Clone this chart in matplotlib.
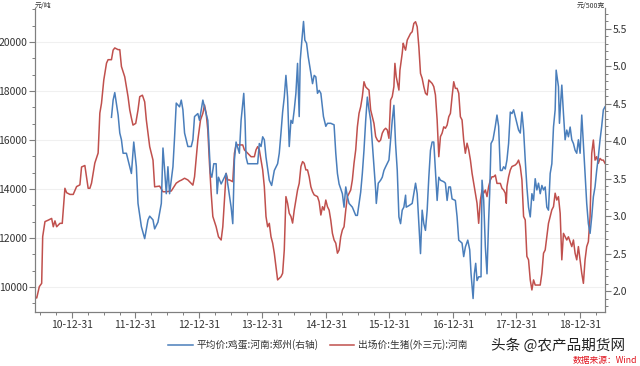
import matplotlib
matplotlib.use('Agg')
import matplotlib.pyplot as plt
from matplotlib.ticker import MultipleLocator, AutoMinorLocator, FixedLocator
import numpy as np

plt.rcParams['font.family'] = ['Noto Sans CJK SC', 'DejaVu Sans']

# 出场价:生猪(外三元):河南  (元/吨, left axis) - time in fractional years
pig_t = [2010.419, 2010.446, 2010.487, 2010.524, 2010.540, 2010.576, 2010.628, 2010.681, 2010.707, 2010.733,
         2010.760, 2010.812, 2010.848, 2010.890, 2010.917, 2010.969, 2011.021, 2011.074, 2011.126, 2011.152,
         2011.204, 2011.230, 2011.256, 2011.283, 2011.309, 2011.361, 2011.413, 2011.440, 2011.466, 2011.502,
         2011.545, 2011.570, 2011.623, 2011.649, 2011.675, 2011.727, 2011.754, 2011.780, 2011.832, 2011.884,
         2011.911, 2011.937, 2011.962, 2012.005, 2012.041, 2012.068, 2012.110, 2012.146, 2012.172, 2012.225,
         2012.277, 2012.303, 2012.381, 2012.433, 2012.486, 2012.565, 2012.643, 2012.695, 2012.722, 2012.774,
         2012.826, 2012.879, 2012.905, 2012.931, 2012.983, 2013.025, 2013.062, 2013.088, 2013.114, 2013.140,
         2013.166, 2013.193, 2013.219, 2013.271, 2013.308, 2013.350, 2013.376, 2013.402, 2013.428, 2013.454,
         2013.481, 2013.533, 2013.559, 2013.585, 2013.637, 2013.690, 2013.716, 2013.768, 2013.821, 2013.873,
         2013.899, 2013.925, 2013.951, 2013.978, 2014.004, 2014.030, 2014.056, 2014.082, 2014.108, 2014.135,
         2014.161, 2014.187, 2014.213, 2014.239, 2014.292, 2014.318, 2014.344, 2014.370, 2014.396, 2014.422,
         2014.449, 2014.475, 2014.501, 2014.527, 2014.553, 2014.579, 2014.606, 2014.632, 2014.658, 2014.684,
         2014.710, 2014.736, 2014.763, 2014.789, 2014.815, 2014.867, 2014.893, 2014.920, 2014.946, 2014.971,
         2014.998, 2015.024, 2015.050, 2015.076, 2015.102, 2015.128, 2015.155, 2015.181, 2015.207, 2015.233,
         2015.259, 2015.285, 2015.312, 2015.338, 2015.364, 2015.390, 2015.416, 2015.442, 2015.469, 2015.495,
         2015.521, 2015.547, 2015.573, 2015.599, 2015.626, 2015.652, 2015.678, 2015.704, 2015.730, 2015.756,
         2015.783, 2015.809, 2015.835, 2015.861, 2015.887, 2015.913, 2015.940, 2015.966, 2015.992, 2016.018,
         2016.044, 2016.070, 2016.086, 2016.107, 2016.128, 2016.149, 2016.165, 2016.180, 2016.201, 2016.217,
         2016.233, 2016.254, 2016.280, 2016.306, 2016.332, 2016.358, 2016.384, 2016.411, 2016.437, 2016.463,
         2016.489, 2016.515, 2016.541, 2016.567, 2016.594, 2016.620, 2016.672, 2016.698, 2016.724, 2016.751,
         2016.777, 2016.803, 2016.829, 2016.855, 2016.881, 2016.908, 2016.934, 2016.960, 2016.986, 2017.012,
         2017.038, 2017.065, 2017.091, 2017.117, 2017.143, 2017.169, 2017.195, 2017.222, 2017.248, 2017.275,
         2017.301, 2017.327, 2017.353, 2017.379, 2017.405, 2017.432, 2017.458, 2017.484, 2017.510, 2017.536,
         2017.562, 2017.589, 2017.615, 2017.641, 2017.667, 2017.693, 2017.746, 2017.772, 2017.798, 2017.824,
         2017.840, 2017.850, 2017.876, 2017.903, 2017.929, 2017.981, 2018.007, 2018.033, 2018.060, 2018.086,
         2018.112, 2018.138, 2018.164, 2018.190, 2018.217, 2018.243, 2018.269, 2018.295, 2018.321, 2018.374,
         2018.400, 2018.426, 2018.452, 2018.504, 2018.531, 2018.557, 2018.583, 2018.609, 2018.635, 2018.661,
         2018.688, 2018.714, 2018.740, 2018.766, 2018.792, 2018.818, 2018.845, 2018.871, 2018.897, 2018.923,
         2018.949, 2018.975, 2019.002, 2019.028, 2019.054, 2019.080, 2019.106, 2019.132, 2019.159, 2019.185,
         2019.211, 2019.237, 2019.263, 2019.289, 2019.316, 2019.342, 2019.368, 2019.394]
pig_v = [9608, 9550, 10016, 10150, 12056, 12670, 12730, 12800, 12460, 12700,
         12460, 12600, 12600, 14030, 13850, 13780, 13780, 14100, 14170, 14900,
         14960, 14490, 14030, 14030, 14240, 15060, 15470, 17100, 17500, 18450,
         19140, 19280, 19280, 19670, 19760, 19690, 19690, 19000, 18580, 17770,
         17230, 16900, 16610, 16680, 17230, 17770, 17830, 17560, 16820, 15730,
         15180, 14090, 14120, 13890, 13890, 13920, 14240, 14330, 14360, 14440,
         14370, 14230, 14160, 14500, 16000, 16820, 17090, 17430, 17090, 16410,
         15050, 13830, 12880, 12460, 12050, 11920, 12460, 13550, 14640, 14370,
         14370, 14300, 15460, 15800, 15800, 15800, 15600, 15460, 15320, 15320,
         15600, 15730, 15600, 15180, 14780, 14090, 12880, 12460, 12600, 12050,
         11790, 11380, 10830, 10290, 10420, 10560, 11510, 13690, 13420, 13010,
         12880, 12610, 13140, 13550, 13960, 14230, 14920, 15120, 15050, 14780,
         14780, 14500, 14090, 13890, 13760, 13690, 13480, 12940, 13280, 13140,
         13550, 13280, 13140, 12730, 12190, 11920, 11790, 11380, 11510, 12050,
         12330, 12460, 13140, 13690, 13830, 13960, 14370, 15050, 15600, 16540,
         17090, 17360, 17770, 18380, 18170, 18100, 18040, 17230, 16950, 16680,
         16140, 16000, 15930, 16000, 16280, 16410, 16480, 16410, 16070, 17630,
         17770, 18180, 19130, 18580, 18310, 18040, 18850, 19130, 19540, 19950,
         19810, 19670, 20080, 20220, 20350, 20420, 20760, 20830, 20620, 19810,
         18720, 18520, 18180, 17910, 17840, 18450, 18310, 18180, 17840, 16820,
         15320, 16140, 16280, 16540, 16480, 16610, 16950, 17090, 17770, 18380,
         18110, 18110, 17910, 16950, 16820, 16000, 15460, 15870, 15600, 15180,
         14640, 14230, 13830, 13420, 12600, 13550, 13960, 13830, 13960, 13690,
         14100, 14370, 14500, 14500, 14570, 14230, 14230, 14030, 13960, 13830,
         13420, 14100, 14500, 14780, 14920, 14980, 15050, 15180, 14920, 14370,
         12880, 12740, 11250, 11110, 10290, 9880, 10290, 10080, 10080, 10080,
         10560, 11380, 11510, 12600, 12880, 13150, 13280, 13830, 13550, 13690,
         13010, 11110, 12190, 12050, 11920, 12050, 11850, 11650, 11920, 11380,
         11110, 11650, 11110, 10560, 10150, 11110, 11650, 11850, 12880, 15460,
         16000, 15180, 15320, 15050, 15250, 15180, 15180, 15050]

# 平均价:鸡蛋:河南:郑州 (元/500克, right axis)
egg_t = [2011.623, 2011.649, 2011.675, 2011.702, 2011.728, 2011.754, 2011.780, 2011.806, 2011.858, 2011.911,
         2011.937, 2011.974, 2012.015, 2012.041, 2012.094, 2012.146, 2012.198, 2012.225, 2012.277, 2012.303,
         2012.355, 2012.408, 2012.434, 2012.460, 2012.486, 2012.512, 2012.538, 2012.591, 2012.617, 2012.643,
         2012.695, 2012.722, 2012.748, 2012.774, 2012.826, 2012.879, 2012.905, 2012.931, 2012.983, 2013.009,
         2013.036, 2013.062, 2013.098, 2013.140, 2013.182, 2013.203, 2013.234, 2013.271, 2013.287, 2013.308,
         2013.350, 2013.402, 2013.428, 2013.454, 2013.507, 2013.533, 2013.559, 2013.585, 2013.637, 2013.664,
         2013.690, 2013.706, 2013.726, 2013.742, 2013.768, 2013.821, 2013.873, 2013.925, 2013.951, 2013.978,
         2014.004, 2014.030, 2014.056, 2014.108, 2014.145, 2014.187, 2014.239, 2014.265, 2014.292, 2014.318,
         2014.344, 2014.370, 2014.396, 2014.422, 2014.449, 2014.475, 2014.501, 2014.527, 2014.553, 2014.579,
         2014.595, 2014.621, 2014.647, 2014.668, 2014.695, 2014.721, 2014.763, 2014.789, 2014.815, 2014.841,
         2014.867, 2014.893, 2014.920, 2014.961, 2014.998, 2015.024, 2015.076, 2015.128, 2015.155, 2015.181,
         2015.207, 2015.259, 2015.285, 2015.312, 2015.338, 2015.364, 2015.416, 2015.469, 2015.495, 2015.521,
         2015.547, 2015.573, 2015.599, 2015.626, 2015.652, 2015.678, 2015.704, 2015.730, 2015.756, 2015.783,
         2015.793, 2015.824, 2015.861, 2015.887, 2015.913, 2015.940, 2015.992, 2016.018, 2016.044, 2016.070,
         2016.096, 2016.123, 2016.149, 2016.175, 2016.201, 2016.227, 2016.254, 2016.264, 2016.306, 2016.358,
         2016.411, 2016.437, 2016.463, 2016.489, 2016.515, 2016.541, 2016.567, 2016.594, 2016.620, 2016.646,
         2016.672, 2016.698, 2016.724, 2016.751, 2016.777, 2016.803, 2016.855, 2016.881, 2016.908, 2016.934,
         2016.960, 2016.986, 2017.038, 2017.065, 2017.091, 2017.143, 2017.169, 2017.196, 2017.233, 2017.264,
         2017.285, 2017.317, 2017.337, 2017.358, 2017.379, 2017.405, 2017.442, 2017.458, 2017.484, 2017.510,
         2017.536, 2017.562, 2017.578, 2017.599, 2017.630, 2017.667, 2017.693, 2017.719, 2017.746, 2017.772,
         2017.798, 2017.824, 2017.850, 2017.876, 2017.903, 2017.929, 2017.955, 2017.981, 2018.007, 2018.033,
         2018.060, 2018.086, 2018.112, 2018.138, 2018.164, 2018.190, 2018.217, 2018.243, 2018.269, 2018.295,
         2018.321, 2018.347, 2018.374, 2018.400, 2018.426, 2018.452, 2018.478, 2018.504, 2018.531, 2018.557,
         2018.583, 2018.609, 2018.625, 2018.646, 2018.661, 2018.677, 2018.698, 2018.714, 2018.740, 2018.766,
         2018.792, 2018.818, 2018.845, 2018.871, 2018.897, 2018.923, 2018.949, 2018.975, 2019.002, 2019.028,
         2019.054, 2019.080, 2019.106, 2019.132, 2019.159, 2019.185, 2019.211, 2019.237, 2019.263, 2019.289,
         2019.316, 2019.342, 2019.368, 2019.394]
egg_v = [4.32, 4.55, 4.65, 4.50, 4.35, 4.11, 4.02, 3.84, 3.84, 3.66,
         3.57, 3.99, 3.66, 3.17, 2.86, 2.70, 2.95, 3.00, 2.95, 2.83,
         2.92, 3.17, 3.91, 3.62, 3.30, 3.66, 3.30, 3.66, 4.06, 4.51,
         4.46, 4.55, 4.42, 4.11, 3.93, 3.93, 4.02, 4.33, 4.37, 4.28,
         4.42, 4.55, 4.42, 4.28, 3.57, 3.52, 3.70, 3.70, 3.30, 3.52,
         3.43, 3.52, 3.57, 3.43, 3.12, 2.90, 3.75, 3.99, 3.84, 4.28,
         4.51, 4.64, 4.28, 3.79, 3.70, 3.70, 3.70, 3.70, 3.97, 3.93,
         4.06, 4.02, 3.79, 3.48, 3.41, 3.61, 3.70, 3.84, 4.11, 4.39,
         4.59, 4.88, 4.59, 3.93, 4.28, 4.24, 4.42, 4.64, 5.04, 4.33,
         5.08, 5.35, 5.60, 5.35, 5.31, 5.13, 4.91, 4.77, 4.88, 4.86,
         4.64, 4.68, 4.64, 4.33, 4.20, 4.24, 4.24, 4.22, 3.84, 3.57,
         3.43, 3.30, 3.12, 3.39, 3.26, 3.17, 3.12, 3.01, 3.01, 3.17,
         3.32, 3.57, 3.88, 4.28, 4.59, 4.42, 4.28, 3.97, 3.66, 3.35,
         3.17, 3.44, 3.48, 3.52, 3.61, 3.66, 3.75, 4.02, 4.28, 4.48,
         3.97, 3.61, 2.99, 2.90, 3.08, 3.12, 3.28, 3.12, 3.14, 3.17,
         3.44, 3.30, 2.90, 2.50, 3.08, 2.90, 2.81, 3.08, 3.52, 3.88,
         3.99, 3.99, 3.61, 3.21, 3.52, 3.48, 3.46, 3.44, 3.21, 3.39,
         3.39, 3.23, 3.21, 2.99, 2.68, 2.64, 2.46, 2.59, 2.68, 2.55,
         2.23, 1.90, 2.23, 2.37, 2.14, 2.19, 2.19, 3.48, 3.21, 2.59,
         2.23, 2.95, 3.30, 3.97, 4.02, 4.20, 4.35, 4.20, 3.61, 3.61,
         3.66, 3.63, 3.75, 3.97, 4.39, 4.37, 4.42, 4.33, 4.24, 4.15,
         4.11, 4.39, 4.15, 3.75, 3.39, 3.12, 2.99, 3.30, 3.21, 3.50,
         3.35, 3.44, 3.30, 3.41, 3.35, 3.39, 3.12, 3.08, 3.57, 3.70,
         4.19, 4.42, 4.95, 4.82, 4.73, 4.24, 4.55, 4.75, 4.37, 4.02,
         4.15, 4.06, 4.19, 4.02, 3.97, 3.88, 3.84, 4.02, 3.84, 4.35,
         3.97, 3.57, 3.17, 2.90, 2.77, 2.99, 3.26, 3.39, 3.61, 3.79,
         4.02, 4.20, 4.42, 4.46]

year_ticks = [2011, 2012, 2013, 2014, 2015, 2016, 2017, 2018, 2019]
year_labels = ['10-12-31', '11-12-31', '12-12-31', '13-12-31', '14-12-31',
               '15-12-31', '16-12-31', '17-12-31', '18-12-31']

blue = '#4a7ebb'
red = '#c0504d'
axcol = '#7f7f7f'
txtcol = '#333333'

fig = plt.figure(figsize=(6.4, 3.66), dpi=100)
ax = fig.add_axes([35/640, 1-312/366, 570/640, 304/366])
ax2 = ax.twinx()

l2, = ax.plot(pig_t, pig_v, color=red, lw=1.1, zorder=3)
l1, = ax2.plot(egg_t, egg_v, color=blue, lw=1.1, zorder=3)

ax.set_xlim(2010.419, 2019.394)
ax.set_ylim(8980, 21390)
ax2.set_ylim(1.72, 5.78)

ax.set_xticks(year_ticks)
ax.set_xticklabels(year_labels)
ax.xaxis.set_minor_locator(MultipleLocator(0.25))
ax.set_yticks([10000, 12000, 14000, 16000, 18000, 20000])
ax.yaxis.set_minor_locator(AutoMinorLocator(3))
ax2.set_yticks([2.0, 2.5, 3.0, 3.5, 4.0, 4.5, 5.0, 5.5])
ax2.set_yticklabels(['2.0', '2.5', '3.0', '3.5', '4.0', '4.5', '5.0', '5.5'])
ax2.yaxis.set_minor_locator(AutoMinorLocator(5))

ax.grid(axis='y', color='#f0f0f0', lw=0.8)
ax.set_axisbelow(True)

for a in (ax, ax2):
    a.spines['top'].set_visible(False)
    for s in ('left', 'right', 'bottom'):
        a.spines[s].set_color(axcol)
        a.spines[s].set_linewidth(0.8)
    a.tick_params(which='major', length=4, width=0.8, color=axcol, labelsize=7.5, labelcolor=txtcol, pad=1.5)
    a.tick_params(which='minor', length=2.5, width=0.7, color=axcol)

fig.text(35/640, 1-6/366, '元/吨', fontsize=5, color=txtcol, ha='left', va='center')
fig.text(605/640, 1-6/366, '元/500克', fontsize=5, color=txtcol, ha='right', va='center')

fig.legend([l1, l2], ['平均价:鸡蛋:河南:郑州(右轴)', '出场价:生猪(外三元):河南'],
           loc='center', bbox_to_anchor=(318/640, 1-345/366), ncol=2, frameon=False,
           fontsize=7, handlelength=2.5, columnspacing=1.2, handletextpad=0.4,
           labelcolor=txtcol)

fig.text(558/640, 1-346/366, '头条 @农产品期货网', fontsize=10.5, color='#222222',
         ha='center', va='center')
fig.text(637/640, 1-360.5/366, '数据来源：Wind', fontsize=6.3, color='#e0141e',
         ha='right', va='center', style='italic')

fig.savefig('out.png', dpi=100)
